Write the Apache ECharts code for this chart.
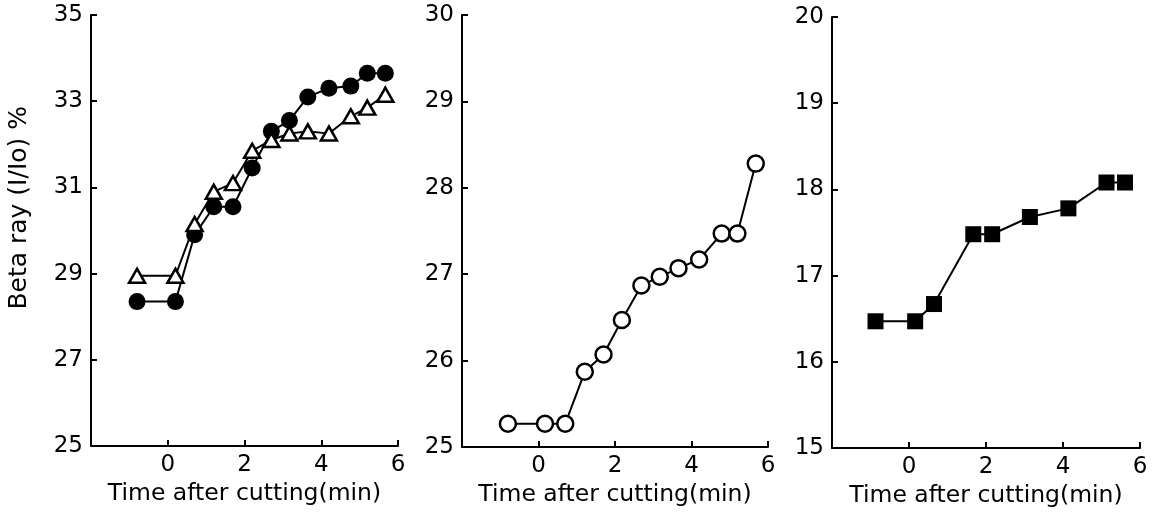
<!DOCTYPE html>
<html>
<head>
<meta charset="utf-8">
<script src="https://cdn.jsdelivr.net/npm/echarts@6/dist/echarts.min.js"></script>
<style>
  html, body { margin: 0; padding: 0; background: #fff; }
  #chart { width: 1159px; height: 519px; }
</style>
</head>
<body>
<div id="chart"></div>
<script>
// time after cutting (min)
const timeLeft = [-0.8, 0.2, 0.7, 1.2, 1.7, 2.2, 2.7, 3.17, 3.65, 4.2, 4.77, 5.2, 5.67]
const filledCircle = [28.35, 28.35, 29.9, 30.55, 30.55, 31.45, 32.3, 32.55, 33.1, 33.3, 33.35, 33.65, 33.65]
const openTriangle = [28.95, 28.95, 30.15, 30.9, 31.1, 31.85, 32.1, 32.25, 32.3, 32.25, 32.65, 32.85, 33.15]

const timeMiddle = [-0.8, 0.17, 0.7, 1.21, 1.7, 2.18, 2.69, 3.17, 3.66, 4.2, 4.79, 5.2, 5.68]
const openCircle = [25.27, 25.27, 25.27, 25.87, 26.07, 26.47, 26.87, 26.97, 27.07, 27.17, 27.47, 27.47, 28.28]

const timeRight = [-0.87, 0.16, 0.65, 1.67, 2.16, 3.14, 4.14, 5.13, 5.61]
const filledSquare = [16.47, 16.47, 16.67, 17.48, 17.48, 17.68, 17.78, 18.08, 18.08]

const yRanges = [[25, 35, 2], [25, 30, 1], [15, 20, 1]]
const xTitle = 'Time after cutting(min)'
const yTitle = 'Beta ray (I/Io) %'

const FONT = 'DejaVu Sans'
const grids = [
  { left: 91, top: 15, width: 307, height: 431 },
  { left: 462, top: 15, width: 306, height: 432 },
  { left: 832, top: 17, width: 308, height: 431 }
]

const pairs = (xs, ys) => xs.map((x, i) => [x, ys[i]])

const xAxes = grids.map((g, i) => ({
  type: 'value',
  gridIndex: i,
  min: -2,
  max: 6,
  interval: 2,
  name: xTitle,
  nameLocation: 'middle',
  nameGap: 31,
  nameTextStyle: { fontFamily: FONT, fontSize: 23.5, color: '#000' },
  axisLine: { onZero: false, lineStyle: { color: '#000', width: 2 } },
  axisTick: {
    inside: true,
    length: 6,
    lineStyle: { color: '#000', width: 2 },
    interval: (idx, v) => v !== -2
  },
  axisLabel: {
    margin: 8,
    fontFamily: FONT,
    fontSize: 23,
    color: '#000',
    formatter: (v) => (v === -2 ? '' : String(v))
  },
  splitLine: { show: false }
}))

const yAxes = yRanges.map((r, i) => ({
  type: 'value',
  gridIndex: i,
  min: r[0],
  max: r[1],
  interval: r[2],
  axisLine: { show: true, onZero: false, lineStyle: { color: '#000', width: 2 } },
  axisTick: { show: true, inside: true, length: 6, lineStyle: { color: '#000', width: 2 } },
  axisLabel: { margin: 8, fontFamily: FONT, fontSize: 23, color: '#000' },
  splitLine: { show: false }
}))

const lineBase = {
  type: 'line',
  symbolSize: 17,
  lineStyle: { color: '#000', width: 2 },
  animation: false
}

const option = {
  backgroundColor: '#fff',
  grid: grids,
  xAxis: xAxes,
  yAxis: yAxes,
  graphic: [
    {
      type: 'text',
      left: 7,
      top: 106,
      rotation: Math.PI / 2,
      style: { text: yTitle, fontFamily: FONT, fontSize: 25, fill: '#000' }
    }
  ],
  series: [
    Object.assign({}, lineBase, {
      xAxisIndex: 0, yAxisIndex: 0,
      symbol: 'circle',
      itemStyle: { color: '#000' },
      data: pairs(timeLeft, filledCircle)
    }),
    Object.assign({}, lineBase, {
      xAxisIndex: 0, yAxisIndex: 0,
      symbol: 'triangle',
      symbolSize: [16, 14],
      itemStyle: { color: '#fff', borderColor: '#000', borderWidth: 2.5 },
      data: pairs(timeLeft, openTriangle)
    }),
    Object.assign({}, lineBase, {
      xAxisIndex: 1, yAxisIndex: 1,
      symbol: 'circle',
      symbolSize: 16,
      itemStyle: { color: '#fff', borderColor: '#000', borderWidth: 2.5 },
      data: pairs(timeMiddle, openCircle)
    }),
    Object.assign({}, lineBase, {
      xAxisIndex: 2, yAxisIndex: 2,
      symbol: 'rect',
      symbolSize: 16,
      itemStyle: { color: '#000' },
      data: pairs(timeRight, filledSquare)
    })
  ]
}

const myChart = echarts.init(document.getElementById('chart'))
myChart.setOption(option)
</script>
</body>
</html>
